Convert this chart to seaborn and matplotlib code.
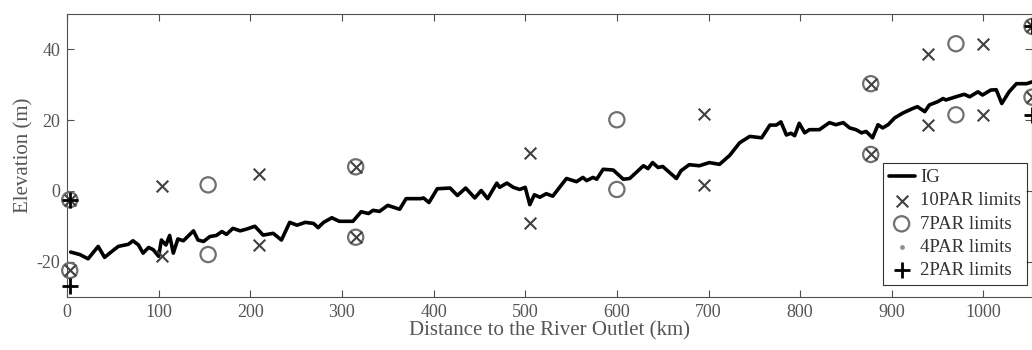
import matplotlib
matplotlib.use("Agg")
import matplotlib.pyplot as plt
import seaborn as sns

# IG profile (distance in km, elevation in m)
ig_km = [4, 14, 23, 34, 41, 49, 56, 67, 72, 78, 83, 89, 94, 100, 103, 108, 112, 116, 121, 127,
         138, 143, 149, 156, 163, 169, 174, 181, 189, 196, 205, 214, 225, 234, 243, 251, 260, 269,
         274, 280, 289, 297, 312, 321, 329, 334, 341, 350, 363, 370, 386, 389, 395, 404, 418, 426,
         435, 445, 452, 459, 469, 472, 480, 487, 494, 500, 505, 510, 516, 523, 530, 545, 556, 563,
         567, 574, 578, 585, 596, 601, 607, 614, 629, 634, 639, 645, 650, 665, 670, 679, 690, 701,
         712, 723, 734, 745, 758, 767, 774, 779, 785, 790, 794, 799, 805, 810, 821, 832, 839, 847,
         854, 861, 867, 872, 879, 885, 890, 896, 903, 912, 923, 928, 936, 941, 950, 956, 959, 970,
         979, 985, 994, 999, 1008, 1014, 1020, 1028, 1036, 1047, 1053, 1060]
ig_elev = [-17.3, -18.0, -19.2, -15.7, -18.8, -17.1, -15.7, -15.1, -14.1, -15.3, -17.6, -16.0,
           -16.6, -18.5, -13.9, -15.3, -12.6, -17.6, -13.6, -14.1, -11.3, -13.9, -14.3, -12.9,
           -12.6, -11.5, -12.3, -10.6, -11.3, -10.8, -10.0, -12.5, -12.0, -13.9, -8.9, -9.7, -8.9,
           -9.2, -10.4, -8.9, -7.6, -8.6, -8.6, -5.9, -6.4, -5.5, -5.8, -4.1, -5.2, -2.2, -2.2,
           -2.0, -3.3, 0.6, 0.8, -1.3, 0.8, -2.0, 0.1, -2.2, 2.2, 1.0, 2.2, 1.0, 0.4, 1.0, -3.9,
           -1.1, -1.8, -0.8, -1.5, 3.5, 2.6, 3.8, 2.9, 3.8, 3.3, 6.1, 5.9, 4.7, 3.3, 3.5, 7.1, 6.3,
           8.0, 6.6, 6.9, 3.5, 5.7, 7.4, 7.1, 8.0, 7.5, 10.0, 13.6, 15.4, 15.0, 18.6, 18.6, 19.5,
           15.8, 16.3, 15.6, 19.1, 16.4, 17.3, 17.3, 19.3, 18.7, 19.3, 17.8, 17.3, 16.4, 16.8,
           15.0, 18.7, 17.8, 18.7, 20.6, 22.0, 23.3, 23.8, 22.4, 24.3, 25.2, 26.1, 25.7, 26.6,
           27.3, 26.6, 28.0, 27.1, 28.5, 28.6, 24.7, 28.0, 30.3, 30.3, 30.8, 31.0]

# parameter limits (upper / lower pairs)
p10_km = [3, 3, 104, 104, 209, 209, 315, 315, 505, 505, 695, 695, 877, 877, 939, 939, 1000, 1000, 1053, 1053]
p10_elev = [-2.5, -22.5, 1.5, -18.5, 4.7, -15.3, 6.8, -13.1, 10.8, -9.0, 21.8, 1.7, 30.3, 10.3,
            38.8, 18.7, 41.6, 21.5, 46.5, 26.5]
p7_km = [3, 3, 154, 154, 315, 315, 600, 600, 877, 877, 970, 970, 1053, 1053]
p7_elev = [-2.5, -22.5, 1.7, -18.0, 6.8, -13.1, 20.1, 0.4, 30.3, 10.3, 41.6, 21.5, 46.5, 26.5]
p4_km = [3, 1053]
p4_elev = [-2.5, 46.5]
p2_km = [3, 3, 1053, 1053]
p2_elev = [-2.5, -27.0, 46.5, 21.5]

sns.set_style("ticks")
plt.rcParams['font.family'] = ['Liberation Serif', 'DejaVu Serif']
plt.rcParams['axes.unicode_minus'] = False

fig = plt.figure(figsize=(10.32, 3.5), dpi=100)
ax = fig.add_axes([67 / 1032, 1 - 297 / 350, (1032 - 67) / 1032, (297 - 14) / 350])

sns.lineplot(x=ig_km, y=ig_elev, color='black', linewidth=2.6, sort=False,
             estimator=None, label='IG', ax=ax, zorder=2)
sns.scatterplot(x=p10_km, y=p10_elev, marker='x', s=70, color='#404040', linewidth=1.5,
                label='10PAR limits', ax=ax, zorder=4, clip_on=False)
sns.scatterplot(x=p7_km, y=p7_elev, marker='o', s=120, facecolors='none', edgecolor='#707070',
                linewidth=1.6, label='7PAR limits', ax=ax, zorder=3, clip_on=False)
sns.scatterplot(x=p4_km, y=p4_elev, marker='o', s=12, color='#909090', linewidth=0,
                label='4PAR limits', ax=ax, zorder=5, clip_on=False)
sns.scatterplot(x=p2_km, y=p2_elev, marker='+', s=130, color='black', linewidth=2,
                label='2PAR limits', ax=ax, zorder=6, clip_on=False)

ax.set_xlim(0, 1053)
ax.set_ylim(-30, 50)
ax.set_xticks(range(0, 1001, 100))
ax.set_yticks([-20, 0, 20, 40])

gray = '#505050'
for s in ax.spines.values():
    s.set_visible(True)
    s.set_color(gray)
    s.set_linewidth(0.8)
ax.tick_params(direction='in', top=True, right=True, length=5, width=0.8,
               colors=gray, labelsize=13, labelcolor='#555555', pad=5)
ax.set_xlabel('Distance to the River Outlet (km)', fontsize=15, color='#555555', labelpad=0)
ax.set_ylabel('Elevation (m)', fontsize=15, color='#555555', labelpad=2)

handles, labels = ax.get_legend_handles_labels()
leg = ax.legend(handles, labels, loc='lower right', bbox_to_anchor=(1027 / 1032, 1 - 285 / 350),
                bbox_transform=fig.transFigure, fontsize=13.5, frameon=True, fancybox=False,
                handlelength=1.4, handletextpad=0.3, borderpad=0.3, labelspacing=0.33,
                borderaxespad=0)
leg.get_frame().set_edgecolor('black')
leg.get_frame().set_linewidth(0.8)
for t in leg.get_texts():
    t.set_color('#333333')

fig.savefig('out.png', dpi=100)
